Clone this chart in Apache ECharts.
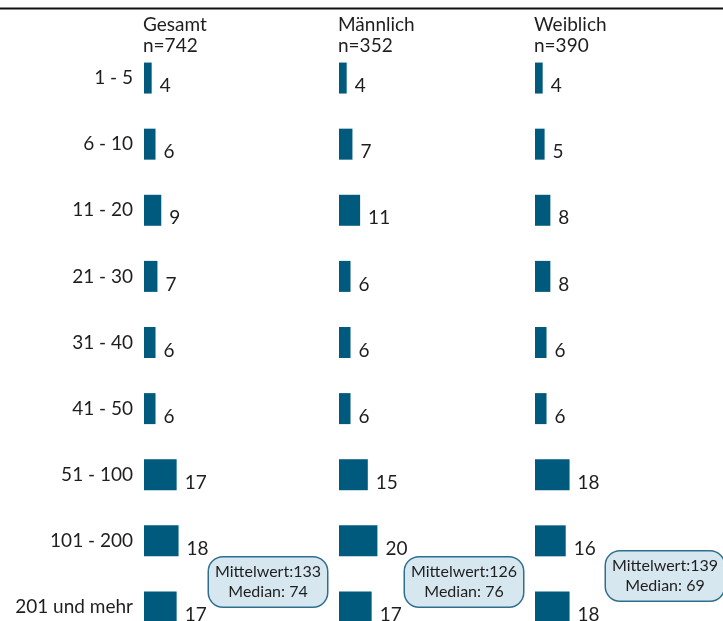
<!DOCTYPE html>
<html>
<head>
<meta charset="utf-8">
<script src="https://cdn.jsdelivr.net/npm/echarts@6/dist/echarts.min.js"></script>
<style>
  html, body { margin: 0; padding: 0; background: #fff; }
  #main { width: 723px; height: 621px; }
</style>
</head>
<body>
<div id="main"></div>
<script>
var categories = ['1 - 5', '6 - 10', '11 - 20', '21 - 30', '31 - 40', '41 - 50', '51 - 100', '101 - 200', '201 und mehr'];
var groups = ['Gesamt', 'Männlich', 'Weiblich'];
var groupN = [742, 352, 390];
var gesamt = [4, 6, 9, 7, 6, 6, 17, 18, 17];
var maennlich = [4, 7, 11, 6, 6, 6, 15, 20, 17];
var weiblich = [4, 5, 8, 8, 6, 6, 18, 16, 18];
var mittelwert = [133, 126, 139];
var median = [74, 76, 69];

var seriesData = [gesamt, maennlich, weiblich];
var font = 'Lato';
var barColor = '#005a7d';
var panelLeft = [144, 339, 535];
var boxPos = [[268, 582], [464, 582], [665, 576]];

var myChart = echarts.init(document.getElementById('main'));

var grids = [], xAxes = [], yAxes = [], series = [], titles = [], graphics = [];

for (var i = 0; i < 3; i++) {
    // grid runs past the bottom edge, the last row is cut like in the print
    grids.push({ left: panelLeft[i], top: 45, width: 192, height: 595, outerBoundsMode: 'none', containLabel: false });
    xAxes.push({
        type: 'value', gridIndex: i, min: 0, max: 100,
        show: false, splitLine: { show: false }
    });
    yAxes.push({
        type: 'category', gridIndex: i, data: categories, inverse: true,
        axisLine: { show: false }, axisTick: { show: false }, splitLine: { show: false },
        axisLabel: {
            show: i === 0, margin: 11, color: '#1e1e1e',
            fontFamily: font, fontSize: 19
        }
    });
    series.push({
        name: groups[i],
        type: 'bar',
        xAxisIndex: i,
        yAxisIndex: i,
        barWidth: 31,
        itemStyle: { color: barColor },
        label: {
            show: true, position: 'right', distance: 8, offset: [0, 8],
            color: '#1e1e1e', fontFamily: font, fontSize: 19
        },
        data: seriesData[i]
    });
    titles.push({
        text: groups[i] + '\nn=' + groupN[i],
        left: panelLeft[i] - 1, top: 14, padding: 0,
        textStyle: { color: '#1e1e1e', fontFamily: font, fontSize: 19, fontWeight: 'normal', lineHeight: 21 }
    });
    graphics.push({
        type: 'text',
        x: boxPos[i][0], y: boxPos[i][1],
        style: {
            text: 'Mittelwert:' + mittelwert[i] + '\nMedian: ' + median[i],
            align: 'center', verticalAlign: 'middle',
            fill: '#1e1e1e', font: '16px ' + font, lineHeight: 20,
            backgroundColor: '#d7e7f0', borderColor: '#2f6f8e', borderWidth: 1.5,
            borderRadius: 14, padding: [5, 6, 4, 6]
        }
    });
}

graphics.push({
    type: 'line',
    shape: { x1: 0, y1: 8.5, x2: 723, y2: 8.5 },
    style: { stroke: '#111', lineWidth: 1.8 }
});

var option = {
    backgroundColor: '#fff',
    animation: false,
    title: titles,
    grid: grids,
    xAxis: xAxes,
    yAxis: yAxes,
    series: series,
    graphic: graphics
};

myChart.setOption(option);
</script>
</body>
</html>
